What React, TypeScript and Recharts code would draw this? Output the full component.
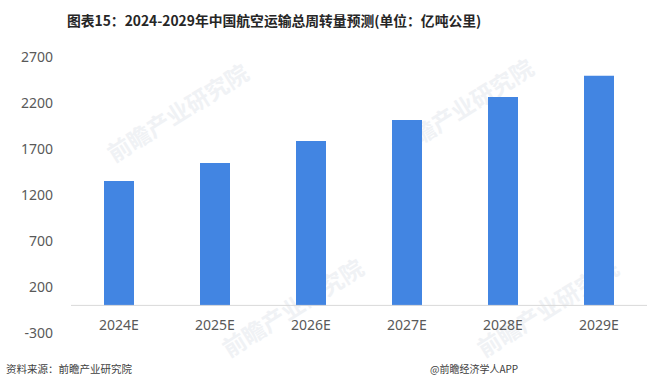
import { BarChart, Bar, XAxis, YAxis, ReferenceLine } from 'recharts'

const categories = ['2024E', '2025E', '2026E', '2027E', '2028E', '2029E']
const turnover = [1353, 1549, 1788, 2016, 2266, 2495]
const yTicks = [-300, 200, 700, 1200, 1700, 2200, 2700]

const data = categories.map((name, i) => ({ name, value: turnover[i] }))

const FONT = '"Noto Sans", "Noto Sans CJK SC", sans-serif'

// faint diagonal watermarks
const marks = [
    { left: 100, top: 140 },
    { left: 215, top: 335 },
    { left: 385, top: 135 },
    { left: 470, top: 335 },
]

function CategoryTick(props: any) {
    const { x, y, payload } = props
    return (
        <text x={x} y={y - 9} textAnchor="middle" dominantBaseline="central" fill="#595959" fontSize={14} fontFamily={FONT}>
            {payload.value}
        </text>
    )
}

export default function App() {
    return (
        <div style={{ position: 'absolute', left: 0, top: 0, width: 653, height: 389, background: '#fff', overflow: 'hidden' }}>
            {marks.map((m, i) => (
                <div
                    key={i}
                    style={{
                        position: 'absolute',
                        left: m.left,
                        top: m.top,
                        transform: 'rotate(-32deg)',
                        transformOrigin: 'left top',
                        fontFamily: '"Noto Sans CJK SC", sans-serif',
                        fontWeight: 700,
                        fontSize: 23,
                        color: '#f0f2f5',
                        whiteSpace: 'nowrap',
                    }}
                >
                    前瞻产业研究院
                </div>
            ))}
            <div
                style={{
                    position: 'absolute',
                    left: 67,
                    top: 10,
                    fontFamily: '"Noto Sans CJK SC", sans-serif',
                    fontWeight: 700,
                    fontSize: 13.8,
                    color: '#262626',
                    whiteSpace: 'nowrap',
                }}
            >
                图表15：2024-2029年中国航空运输总周转量预测(单位：亿吨公里)
            </div>
            <div style={{ position: 'absolute', left: 0, top: 0 }}>
                <BarChart
                    width={653}
                    height={389}
                    data={data}
                    margin={{ top: 57, right: 6, left: 0, bottom: 26 }}
                >
                    <YAxis
                        type="number"
                        domain={[-300, 2700]}
                        ticks={yTicks}
                        width={71}
                        axisLine={false}
                        tickLine={false}
                        tickMargin={12}
                        tick={{ fill: '#595959', fontSize: 14, fontFamily: FONT }}
                        interval={0}
                    />
                    <XAxis
                        dataKey="name"
                        height={30}
                        axisLine={false}
                        tickLine={false}
                        tickSize={0}
                        tickMargin={0}
                        tick={<CategoryTick />}
                        interval={0}
                    />
                    <ReferenceLine y={0} stroke="#d9d9d9" strokeWidth={1} />
                    <Bar dataKey="value" fill="#4285e2" barSize={30} isAnimationActive={false} />
                </BarChart>
            </div>
            <div style={{ position: 'absolute', left: 6, top: 361, fontFamily: '"Noto Sans CJK SC", sans-serif', fontSize: 10.5, color: '#404040', whiteSpace: 'nowrap' }}>
                资料来源：前瞻产业研究院
            </div>
            <div style={{ position: 'absolute', left: 430, top: 361, fontFamily: '"Noto Sans CJK SC", sans-serif', fontSize: 10, color: '#404040', whiteSpace: 'nowrap' }}>
                @前瞻经济学人APP
            </div>
        </div>
    )
}
